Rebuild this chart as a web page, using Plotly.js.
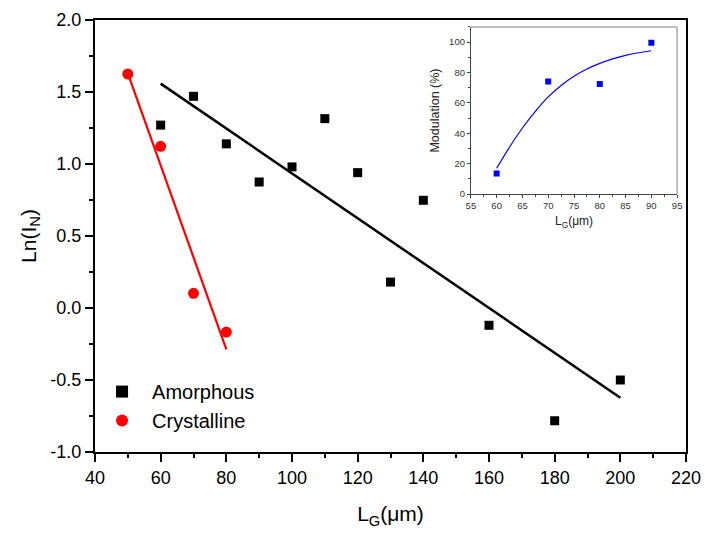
<!DOCTYPE html>
<html>
<head>
<meta charset="utf-8">
<script src="https://cdn.plot.ly/plotly-3.0.1.min.js"></script>
<style>html,body{margin:0;padding:0;background:#fff;}#chart{width:705px;height:533px;}</style>
</head>
<body>
<div id="chart"></div>
<script>
// Main plot data
const amorphousX = [60, 70, 80, 90, 100, 110, 120, 130, 140, 160, 180, 200];
const amorphousY = [1.27, 1.47, 1.14, 0.875, 0.98, 1.315, 0.94, 0.18, 0.748, -0.12, -0.783, -0.50];
const crystallineX = [50, 60, 70, 80];
const crystallineY = [1.625, 1.123, 0.102, -0.167];
// Linear fit lines (end points)
const amorphousFitX = [60, 200];
const amorphousFitY = [1.558, -0.623];
const crystallineFitX = [50, 80];
const crystallineFitY = [1.63, -0.287];
// Main y tick labels (hyphen minus as in the reference)
const yTickVals = [-1.0, -0.5, 0.0, 0.5, 1.0, 1.5, 2.0];
const yTickText = ['-1.0', '-0.5', '0.0', '0.5', '1.0', '1.5', '2.0'];
// Inset data
const insetX = [60, 70, 80, 90];
const insetY = [13.6, 74.0, 72.5, 99.5];
// Inset fit curve
const insetFitX = [60, 62.5, 65, 67.5, 70, 72.5, 75, 77.5, 80, 82.5, 85, 87.5, 90];
const insetFitY = [17, 31, 43.5, 54.5, 64, 71.5, 77.5, 82.3, 86, 89, 91.3, 93, 94.3];

const FONT = 'Arial, "Liberation Sans", sans-serif';

const traces = [
  {x: amorphousFitX, y: amorphousFitY, mode: 'lines', line: {color: '#000', width: 2.5}, showlegend: false, hoverinfo: 'skip'},
  {x: crystallineFitX, y: crystallineFitY, mode: 'lines', line: {color: '#ff0000', width: 2.2}, showlegend: false, hoverinfo: 'skip'},
  {x: amorphousX, y: amorphousY, mode: 'markers', name: 'Amorphous',
   marker: {symbol: 'square', size: 9, color: '#000'}},
  {x: crystallineX, y: crystallineY, mode: 'markers', name: 'Crystalline',
   marker: {symbol: 'circle', size: 11, color: '#ff0000'}},
  {x: insetFitX, y: insetFitY, xaxis: 'x2', yaxis: 'y2', mode: 'lines', line: {color: '#0000ff', width: 1.2, shape: 'spline', smoothing: 0.8}, showlegend: false, hoverinfo: 'skip'},
  {x: insetX, y: insetY, xaxis: 'x2', yaxis: 'y2', mode: 'markers', showlegend: false,
   marker: {symbol: 'square', size: 6, color: '#0000ff'}}
];

const layout = {
  width: 705, height: 533,
  margin: {l: 95, r: 19, t: 20, b: 81},
  paper_bgcolor: '#fff', plot_bgcolor: '#fff',
  font: {family: FONT, color: '#000', size: 18},
  showlegend: true,
  legend: {x: -0.005, y: 0.185, xanchor: 'left', yanchor: 'top', bgcolor: 'rgba(0,0,0,0)',
           itemwidth: 50, itemsizing: 'constant',
           font: {family: FONT, size: 20, color: '#000'}, tracegroupgap: 0},
  xaxis: {
    range: [40, 220], dtick: 20, tick0: 0, showgrid: false, zeroline: false,
    showline: true, linecolor: '#000', linewidth: 2, mirror: true,
    ticks: 'outside', ticklen: 8, tickwidth: 2, tickcolor: '#000',
    minor: {dtick: 10, ticks: 'outside', ticklen: 4, tickwidth: 2, tickcolor: '#000'},
    tickfont: {family: FONT, size: 18, color: '#000'},
    title: {text: 'L<sub>G</sub>(μm)', font: {family: FONT, size: 21, color: '#000'}, standoff: 20}
  },
  yaxis: {
    range: [-1, 2], tickmode: 'array', tickvals: yTickVals, ticktext: yTickText,
    showgrid: false, zeroline: false,
    showline: true, linecolor: '#000', linewidth: 2, mirror: true,
    ticks: 'outside', ticklen: 8, tickwidth: 2, tickcolor: '#000',
    minor: {dtick: 0.25, tick0: 0, ticks: 'outside', ticklen: 4, tickwidth: 2, tickcolor: '#000'},
    tickfont: {family: FONT, size: 18, color: '#000'},
    title: {text: 'Ln(I<sub>N</sub>)', font: {family: FONT, size: 21, color: '#000'}, standoff: 8}
  },
  xaxis2: {
    domain: [0.636, 0.985], anchor: 'y2', range: [55, 95], dtick: 5, showgrid: false, zeroline: false,
    showline: true, linecolor: '#444', linewidth: 1,
    ticks: 'outside', ticklen: 3, tickwidth: 1, tickcolor: '#444',
    minor: {dtick: 2.5, ticks: 'outside', ticklen: 2, tickwidth: 1, tickcolor: '#444'},
    tickfont: {family: FONT, size: 9.5, color: '#333'},
    title: {text: 'L<sub>G</sub>(μm)', font: {family: FONT, size: 12, color: '#222'}, standoff: 6}
  },
  yaxis2: {
    domain: [0.597, 0.984], anchor: 'x2', range: [0, 110], dtick: 20, showgrid: false, zeroline: false,
    showline: true, linecolor: '#444', linewidth: 1,
    ticks: 'outside', ticklen: 3, tickwidth: 1, tickcolor: '#444',
    minor: {dtick: 10, ticks: 'outside', ticklen: 2, tickwidth: 1, tickcolor: '#444'},
    tickfont: {family: FONT, size: 9.5, color: '#333'},
    title: {text: 'Modulation (%)', font: {family: FONT, size: 12.5, color: '#222'}, standoff: 6}
  },
  shapes: [
    {type: 'line', xref: 'x2 domain', yref: 'y2 domain', x0: 0, x1: 1, y0: 1, y1: 1, line: {color: '#aaa', width: 1.5}},
    {type: 'line', xref: 'x2 domain', yref: 'y2 domain', x0: 1, x1: 1, y0: 0, y1: 1, line: {color: '#aaa', width: 1.5}}
  ]
};

Plotly.newPlot('chart', traces, layout, {displayModeBar: false, staticPlot: true});
</script>
</body>
</html>
